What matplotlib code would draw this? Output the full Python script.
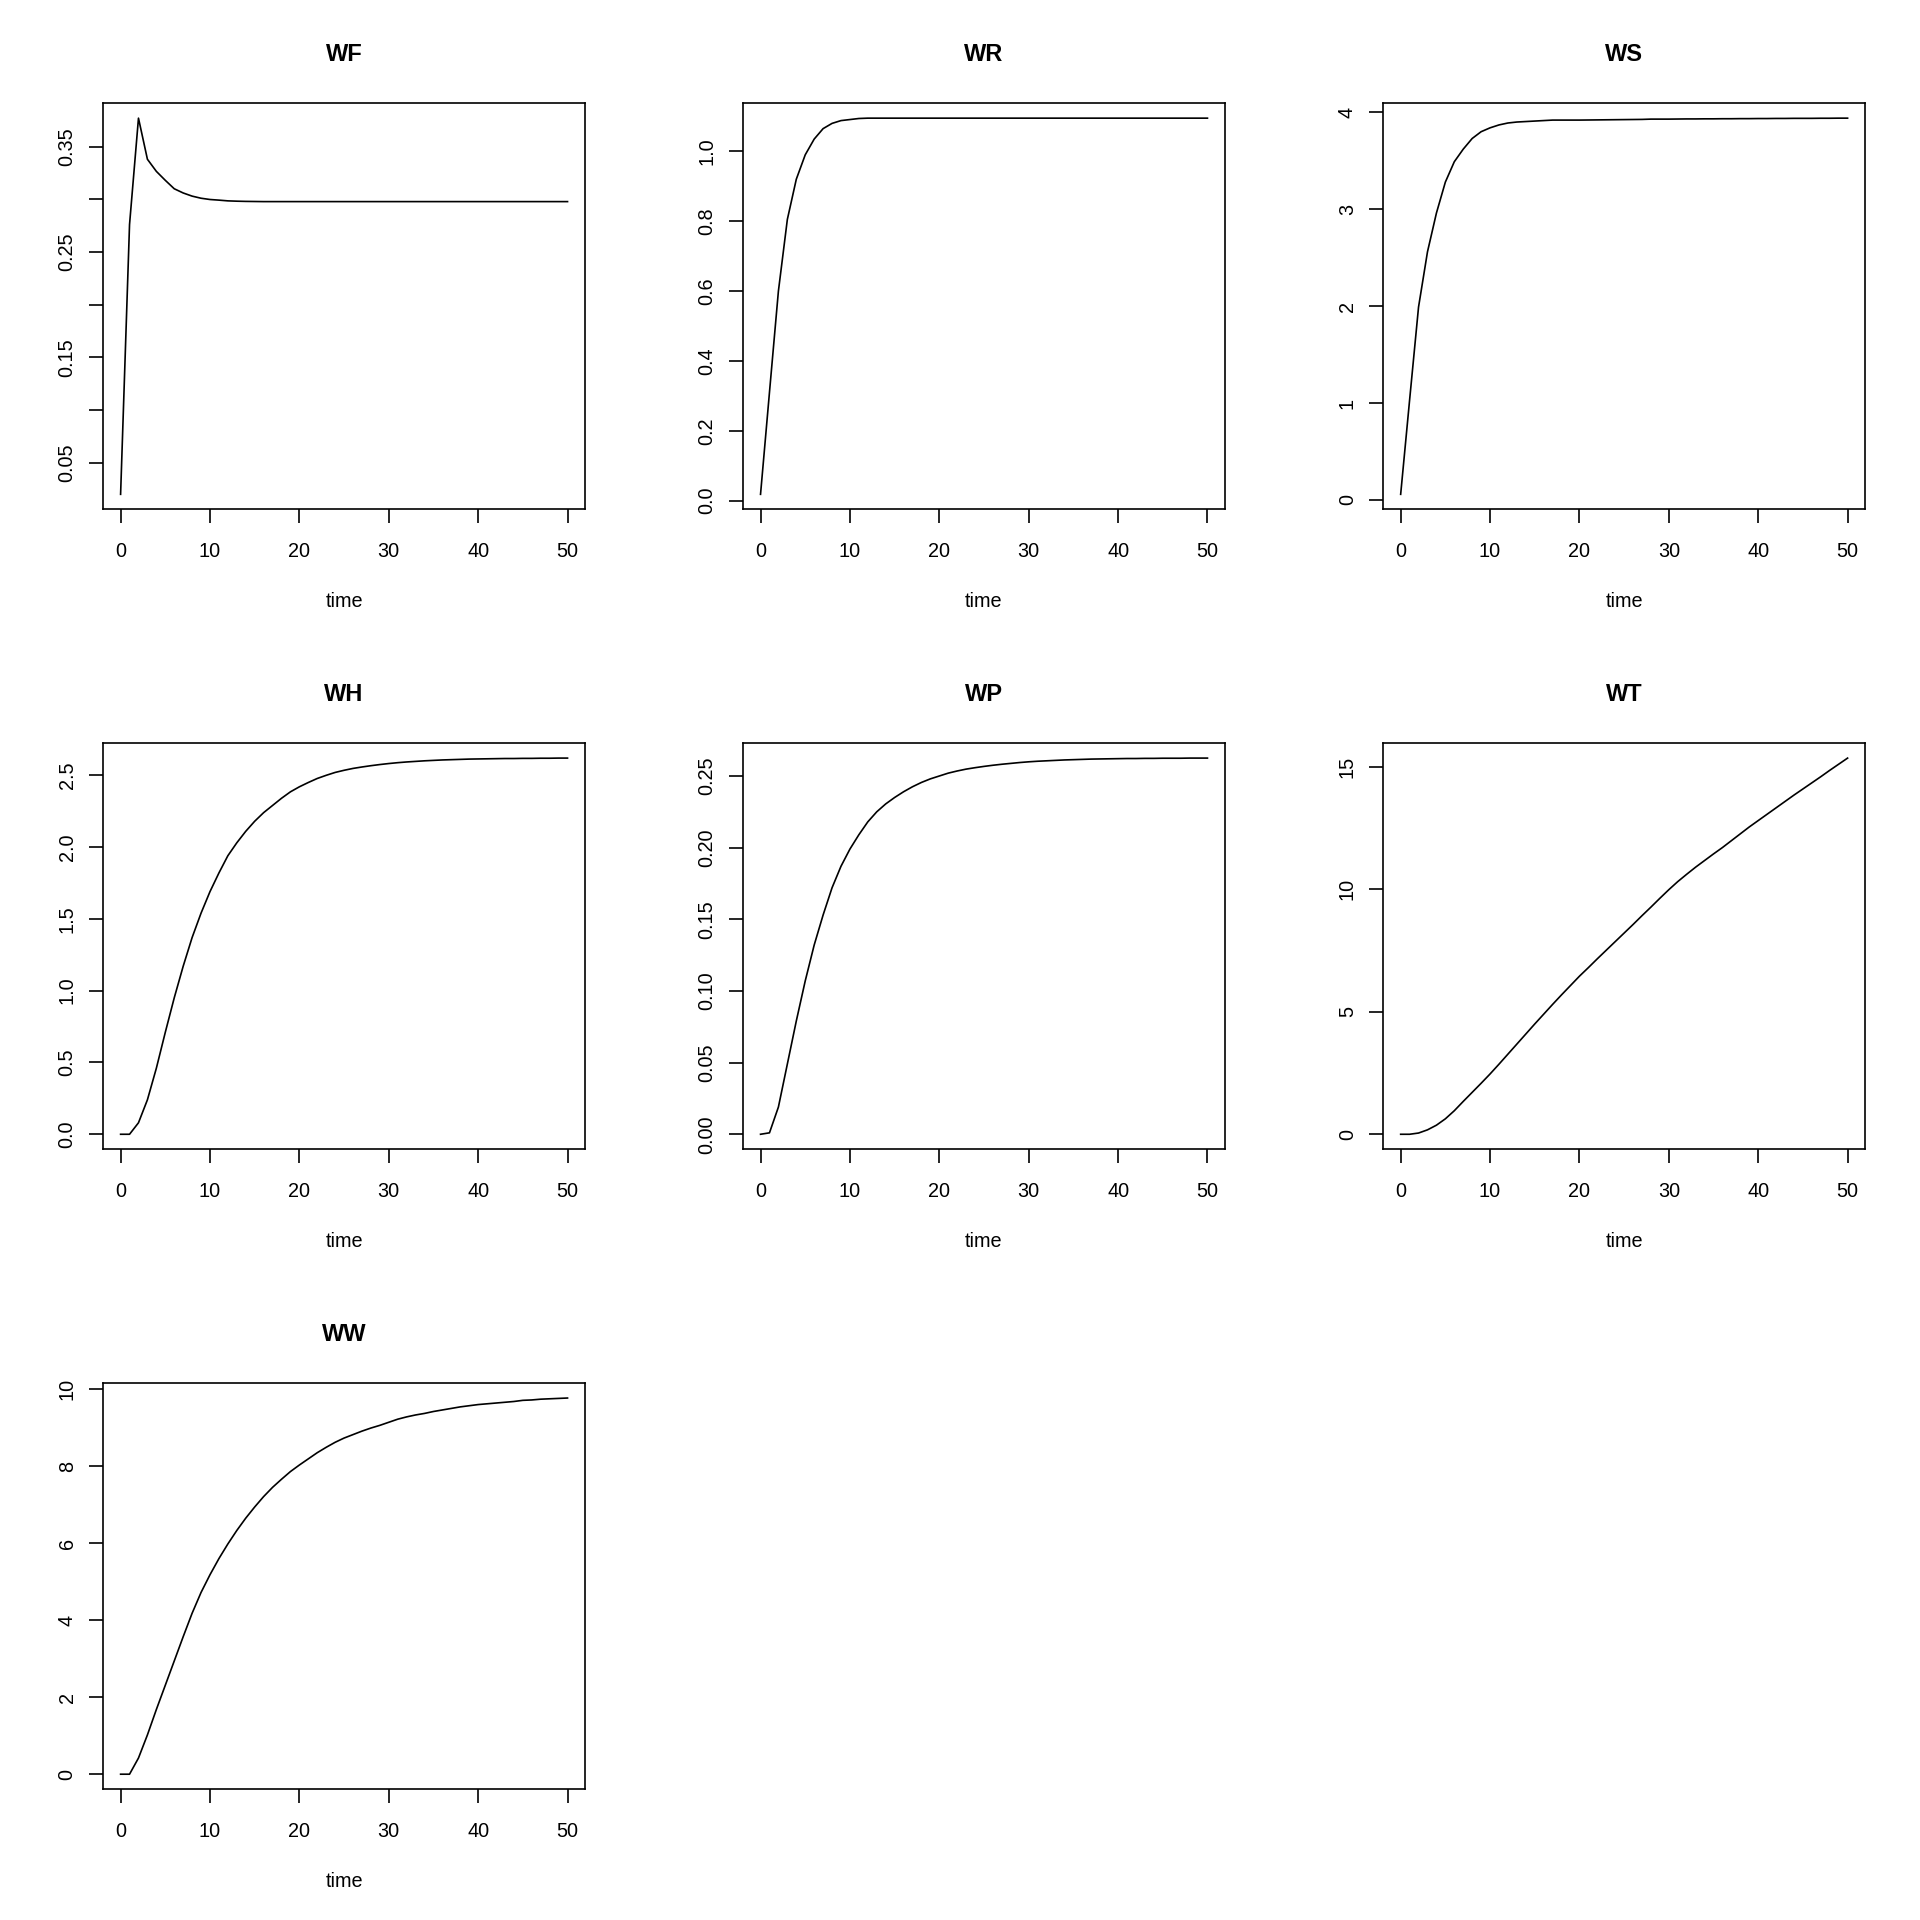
import matplotlib
matplotlib.use('Agg')
import matplotlib.pyplot as plt
import numpy as np

plt.rcParams['font.family'] = ['Liberation Sans', 'DejaVu Sans']

# time in steps of 1
time = np.arange(0, 51)

WF = [0.020, 0.276, 0.377, 0.338, 0.3265, 0.318, 0.310, 0.306, 0.303, 0.301,
      0.2998, 0.2992, 0.2985, 0.2982, 0.2980, 0.2979, 0.2978, 0.2978, 0.2978, 0.2978,
      0.2978, 0.2978, 0.2978, 0.2978, 0.2978, 0.2978, 0.2978, 0.2978, 0.2978, 0.2978,
      0.2978, 0.2978, 0.2978, 0.2978, 0.2978, 0.2978, 0.2978, 0.2978, 0.2978, 0.2978,
      0.2978, 0.2978, 0.2978, 0.2978, 0.2978, 0.2978, 0.2978, 0.2978, 0.2978, 0.2978,
      0.2978]

WR = [0.018, 0.31, 0.60, 0.805, 0.92, 0.99, 1.035, 1.065, 1.08, 1.088,
      1.091, 1.094, 1.095, 1.095, 1.095, 1.095, 1.095, 1.095, 1.095, 1.095,
      1.095, 1.095, 1.095, 1.095, 1.095, 1.095, 1.095, 1.095, 1.095, 1.095,
      1.095, 1.095, 1.095, 1.095, 1.095, 1.095, 1.095, 1.095, 1.095, 1.095,
      1.095, 1.095, 1.095, 1.095, 1.095, 1.095, 1.095, 1.095, 1.095, 1.095,
      1.095]

WS = [0.057, 1.03, 1.99, 2.56, 2.96, 3.28, 3.49, 3.62, 3.73, 3.80,
      3.84, 3.87, 3.89, 3.90, 3.905, 3.91, 3.915, 3.92, 3.92, 3.92,
      3.92, 3.921, 3.922, 3.923, 3.924, 3.925, 3.926, 3.927, 3.93, 3.93,
      3.93, 3.931, 3.932, 3.932, 3.933, 3.933, 3.934, 3.934, 3.935, 3.935,
      3.936, 3.936, 3.937, 3.937, 3.938, 3.938, 3.938, 3.939, 3.939, 3.94,
      3.94]

WH = [0.0, 0.0, 0.08, 0.24, 0.46, 0.71, 0.95, 1.17, 1.37, 1.54,
      1.69, 1.82, 1.94, 2.03, 2.11, 2.18, 2.24, 2.29, 2.34, 2.385,
      2.42, 2.45, 2.478, 2.50, 2.52, 2.535, 2.548, 2.558, 2.567, 2.575,
      2.582, 2.588, 2.593, 2.597, 2.601, 2.604, 2.607, 2.609, 2.611, 2.613,
      2.614, 2.615, 2.616, 2.617, 2.617, 2.618, 2.618, 2.619, 2.619, 2.62,
      2.62]

WP = [0.0, 0.001, 0.019, 0.049, 0.079, 0.107, 0.132, 0.153, 0.172, 0.187,
      0.199, 0.209, 0.218, 0.225, 0.2305, 0.235, 0.239, 0.2425, 0.2455, 0.248,
      0.250, 0.252, 0.2535, 0.2548, 0.2558, 0.2567, 0.2575, 0.2582, 0.2588, 0.2594,
      0.2599, 0.2603, 0.2606, 0.2609, 0.2612, 0.2614, 0.2616, 0.2618, 0.2619, 0.262,
      0.2621, 0.2622, 0.2622, 0.2623, 0.2623, 0.2624, 0.2624, 0.2624, 0.2625, 0.2625,
      0.2625]

WT = [0.0, 0.0, 0.05, 0.18, 0.37, 0.63, 0.96, 1.34, 1.71, 2.08,
      2.46, 2.86, 3.27, 3.68, 4.09, 4.50, 4.90, 5.30, 5.69, 6.07,
      6.45, 6.80, 7.16, 7.51, 7.86, 8.21, 8.56, 8.92, 9.27, 9.63,
      9.98, 10.31, 10.61, 10.90, 11.17, 11.44, 11.70, 11.98, 12.26, 12.54,
      12.80, 13.06, 13.32, 13.58, 13.84, 14.09, 14.34, 14.59, 14.85, 15.10,
      15.35]

WW = [0.0, 0.0, 0.42, 1.02, 1.68, 2.31, 2.94, 3.57, 4.18, 4.72,
      5.18, 5.60, 5.98, 6.33, 6.65, 6.94, 7.21, 7.45, 7.66, 7.86,
      8.03, 8.19, 8.35, 8.49, 8.62, 8.73, 8.82, 8.91, 8.99, 9.06,
      9.14, 9.22, 9.28, 9.33, 9.37, 9.42, 9.46, 9.50, 9.54, 9.57,
      9.60, 9.62, 9.64, 9.66, 9.68, 9.71, 9.72, 9.74, 9.75, 9.76,
      9.77]

titles = ['WF', 'WR', 'WS', 'WH', 'WP', 'WT', 'WW']
series = [WF, WR, WS, WH, WP, WT, WW]

xticks = [0, 10, 20, 30, 40, 50]
yticks = [
    [0.05, 0.10, 0.15, 0.20, 0.25, 0.30, 0.35],
    [0.0, 0.2, 0.4, 0.6, 0.8, 1.0],
    [0, 1, 2, 3, 4],
    [0.0, 0.5, 1.0, 1.5, 2.0, 2.5],
    [0.00, 0.05, 0.10, 0.15, 0.20, 0.25],
    [0, 5, 10, 15],
    [0, 2, 4, 6, 8, 10],
]
ylabels = [
    ['0.05', '', '0.15', '', '0.25', '', '0.35'],
    ['0.0', '0.2', '0.4', '0.6', '0.8', '1.0'],
    ['0', '1', '2', '3', '4'],
    ['0.0', '0.5', '1.0', '1.5', '2.0', '2.5'],
    ['0.00', '0.05', '0.10', '0.15', '0.20', '0.25'],
    ['0', '5', '10', '15'],
    ['0', '2', '4', '6', '8', '10'],
]

fig = plt.figure(figsize=(19.2, 19.2), dpi=100)

# panel positions in figure fractions (3x3 grid, R-like margins)
lefts = [0.0535, 0.3868, 0.7202]
bottoms = [0.7347, 0.4014, 0.0681]
w, h = 0.2514, 0.2116

for i in range(len(series)):
    r, c = divmod(i, 3)
    ax = fig.add_axes([lefts[c], bottoms[r], w, h])
    ax.plot(time, series[i], color='black', lw=1.2)
    ax.margins(x=0.04, y=0.04)

    ax.set_xticks(xticks)
    ax.set_xticklabels([str(t) for t in xticks])
    ax.set_yticks(yticks[i])
    ax.set_yticklabels(ylabels[i], rotation=90, va='center')

    for s in ax.spines.values():
        s.set_linewidth(1.2)
    ax.tick_params(direction='out', length=9.9, width=1.2, labelsize=14.3)
    ax.tick_params(axis='x', pad=13.6)
    ax.tick_params(axis='y', pad=8.8)

    ax.set_xlabel('time', fontsize=14.3)
    ax.xaxis.set_label_coords(0.5, -0.2405)
    ax.xaxis.label.set_va('baseline')

    ax.set_title(titles[i], fontsize=17, fontweight='bold', y=1.082, va='baseline')

fig.savefig('out.png', dpi=100, facecolor='white')
